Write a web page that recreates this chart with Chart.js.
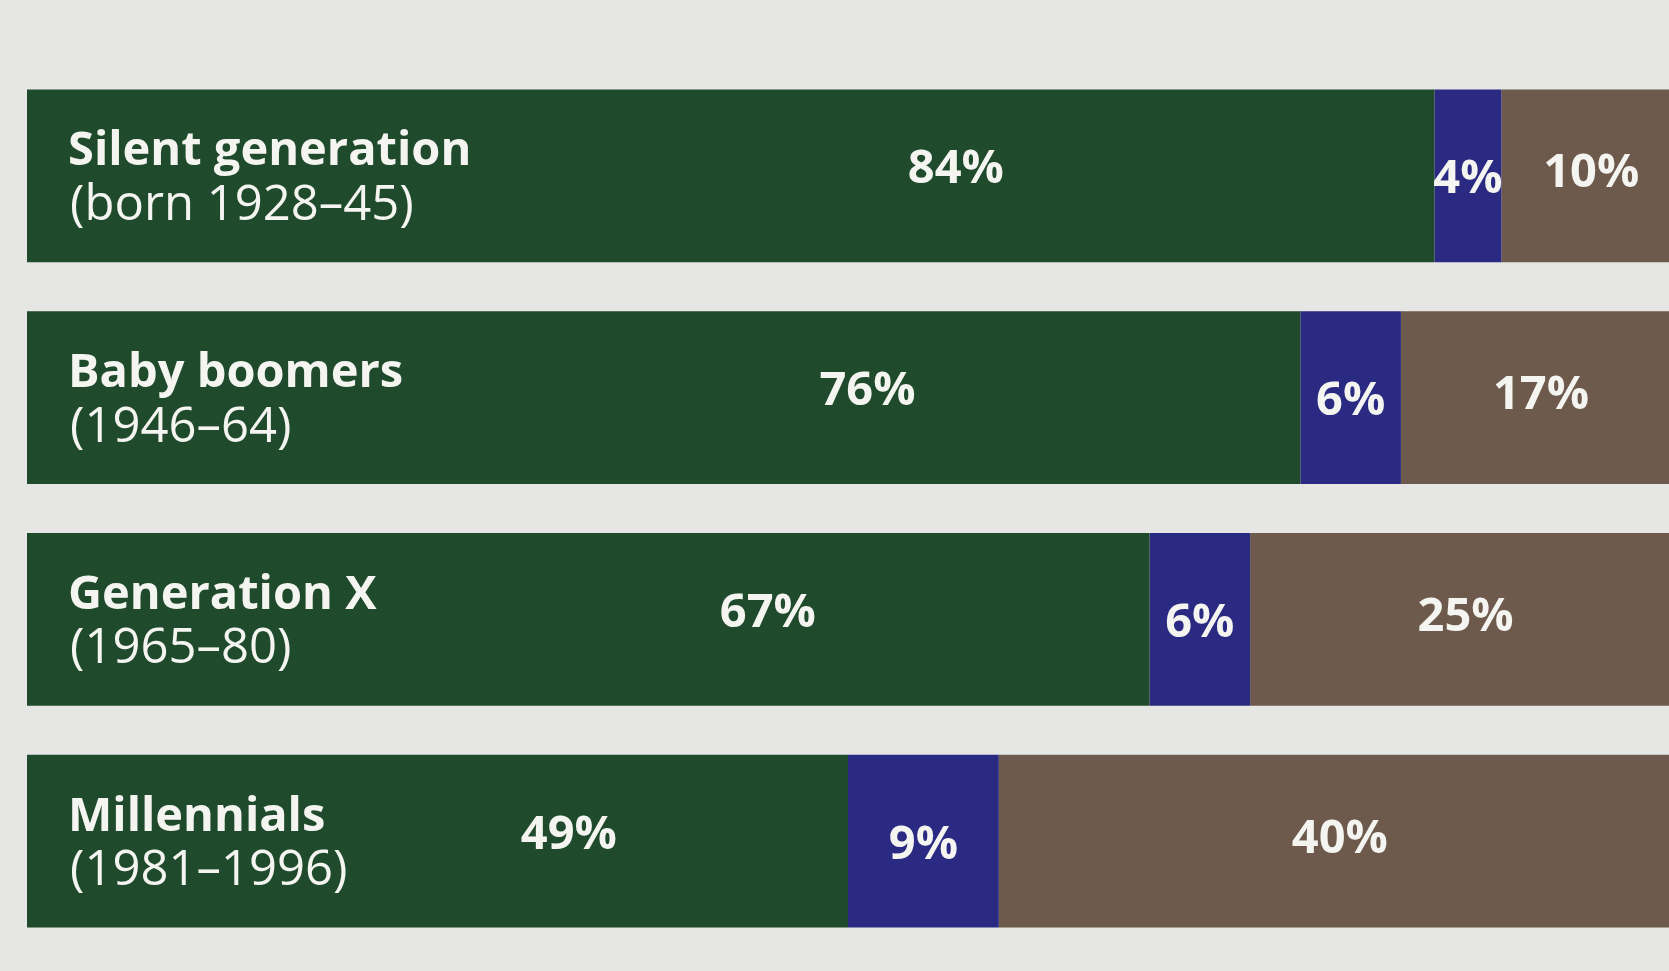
<!DOCTYPE html>
<html>
<head>
<meta charset="utf-8">
<script src="https://cdn.jsdelivr.net/npm/chart.js@4/dist/chart.umd.min.js"></script>
<style>
html,body{margin:0;padding:0;background:#e6e7e4;overflow:hidden;}
canvas{display:block;}
</style>
</head>
<body>
<canvas id="c" width="1669" height="971"></canvas>
<script>
const categories = ['Silent generation', 'Baby boomers', 'Generation X', 'Millennials'];
const subLabels = ['(born 1928–45)', '(1946–64)', '(1965–80)', '(1981–1996)'];
const greenValues = [84, 76, 67, 49];
const blueValues = [4, 6, 6, 9];
const brownValues = [10, 17, 25, 40];

const bgPlugin = {
  id: 'bg',
  beforeDraw(chart) {
    const ctx = chart.ctx;
    ctx.save();
    ctx.fillStyle = '#e6e7e4';
    ctx.fillRect(0, 0, chart.width, chart.height);
    ctx.restore();
  }
};

const labelPlugin = {
  id: 'labels',
  afterDatasetsDraw(chart) {
    const ctx = chart.ctx;
    const xs = chart.scales.x;
    ctx.save();
    ctx.fillStyle = '#f4f4f0';
    ctx.textBaseline = 'middle';
    const metaG = chart.getDatasetMeta(0);
    const metaB = chart.getDatasetMeta(1);
    const metaR = chart.getDatasetMeta(2);
    categories.forEach((cat, i) => {
      const barG = metaG.data[i];
      const y = barG.y;
      // category label
      ctx.textAlign = 'left';
      ctx.font = 'bold 47px "Open Sans", sans-serif';
      ctx.fillText(cat, xs.left + 41, y - 24);
      ctx.font = '49px "Open Sans", sans-serif';
      ctx.fillText(subLabels[i], xs.left + 43, y + 30);
      // percentage labels
      ctx.textAlign = 'center';
      ctx.font = 'bold 47px "Open Sans", sans-serif';
      ctx.fillText(greenValues[i] + '%', xs.getPixelForValue(greenValues[i] * 0.66), y - 6);
      const bB = metaB.data[i];
      ctx.fillText(blueValues[i] + '%', (bB.base + bB.x) / 2, y + 4);
      const bR = metaR.data[i];
      const rEnd = Math.min(bR.x, xs.right);
      ctx.fillText(brownValues[i] + '%', (bR.base + rEnd) / 2 + 6, y - 2);
    });
    ctx.restore();
  }
};

new Chart(document.getElementById('c'), {
  type: 'bar',
  data: {
    labels: categories,
    datasets: [
      { label: 'Green', data: greenValues, backgroundColor: '#1f4a2b' },
      { label: 'Blue', data: blueValues, backgroundColor: '#2b2a82' },
      { label: 'Brown', data: brownValues, backgroundColor: '#6d5a4d' }
    ]
  },
  options: {
    indexAxis: 'y',
    responsive: false,
    animation: false,
    layout: { padding: { left: 27, right: 0, top: 65, bottom: 19 } },
    datasets: { bar: { categoryPercentage: 0.78, barPercentage: 1.0, borderWidth: 0 } },
    plugins: { legend: { display: false }, tooltip: { enabled: false } },
    scales: {
      x: { stacked: true, min: 0, max: 98, display: false, grid: { display: false } },
      y: { stacked: true, display: false, grid: { display: false } }
    }
  },
  plugins: [bgPlugin, labelPlugin]
});
</script>
</body>
</html>
